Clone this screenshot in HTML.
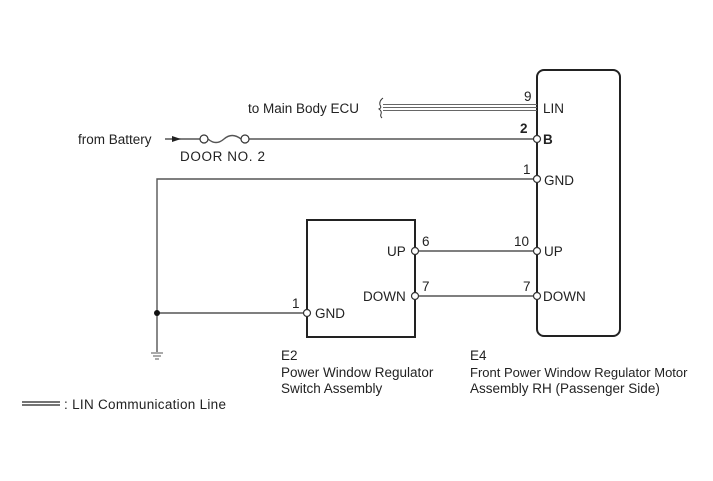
<!DOCTYPE html>
<html><head><style>
html,body{margin:0;padding:0;background:#fff;}
svg{display:block;}
text{font-family:"Liberation Sans",Arial,sans-serif;font-size:13.5px;fill:#222;}
</style></head><body>
<svg width="713" height="481" viewBox="0 0 713 481" xmlns="http://www.w3.org/2000/svg">
<g fill="none" stroke="#555" stroke-width="1.4">
<rect x="537" y="70" width="83" height="266" rx="7" ry="7" stroke="#222" stroke-width="2"/>
<rect x="307" y="220" width="108" height="117" stroke="#222" stroke-width="2"/>
<line x1="383" y1="104.5" x2="537" y2="104.5" stroke="#666" stroke-width="1"/>
<line x1="383" y1="107.5" x2="537" y2="107.5" stroke="#666" stroke-width="1"/>
<line x1="383" y1="110.5" x2="537" y2="110.5" stroke="#666" stroke-width="1"/>
<path d="M383,98 Q379,101 380,105 Q382,108 379,109 Q382,111 381,114 Q380,116 382,118" stroke="#333" stroke-width="1"/>
<line x1="165" y1="139" x2="200" y2="139"/>
<path d="M208,139 Q216,146 224,139 Q232,132 241,139" />
<line x1="249" y1="139" x2="533" y2="139"/>
<polyline points="533,179 157,179 157,352"/>
<line x1="157" y1="313" x2="303" y2="313"/>
<line x1="419" y1="251" x2="533" y2="251"/>
<line x1="419" y1="296" x2="533" y2="296"/>
<line x1="151" y1="353" x2="163" y2="353" stroke-width="1"/>
<line x1="153" y1="356" x2="161" y2="356" stroke-width="1"/>
<line x1="155" y1="359" x2="159" y2="359" stroke-width="1"/>
</g>
<polygon points="181,139 172,136 172,142" fill="#222"/>
<circle cx="157" cy="313" r="3" fill="#111"/>
<g fill="#fff" stroke="#333" stroke-width="1.2">
<circle cx="204" cy="139" r="4"/><circle cx="245" cy="139" r="4"/>
<circle cx="537" cy="139" r="3.5"/><circle cx="537" cy="179" r="3.5"/>
<circle cx="537" cy="251" r="3.5"/><circle cx="537" cy="296" r="3.5"/>
<circle cx="415" cy="251" r="3.5"/><circle cx="415" cy="296" r="3.5"/>
<circle cx="307" cy="313" r="3.5"/>
</g>
<text x="248" y="113">to Main Body ECU</text>
<text x="78" y="144">from Battery</text>
<text x="180" y="161" textLength="85">DOOR  NO. 2</text>
<text x="524" y="101">9</text><text x="543" y="113">LIN</text>
<text x="520" y="133" font-weight="bold">2</text><text x="543" y="144" font-weight="bold">B</text>
<text x="523" y="174">1</text><text x="544" y="185">GND</text>
<text x="514" y="246">10</text><text x="544" y="256">UP</text>
<text x="523" y="291">7</text><text x="543" y="301">DOWN</text>
<text x="422" y="246">6</text><text x="387" y="256">UP</text>
<text x="422" y="291">7</text><text x="363" y="301">DOWN</text>
<text x="292" y="308">1</text><text x="315" y="318">GND</text>
<text x="281" y="360">E2</text>
<text x="281" y="377">Power Window Regulator</text>
<text x="281" y="393">Switch Assembly</text>
<text x="470" y="360">E4</text>
<text x="470" y="377" style="font-size:13px">Front Power Window Regulator Motor</text>
<text x="470" y="393">Assembly RH (Passenger Side)</text>
<line x1="22" y1="402" x2="60" y2="402" stroke="#222" stroke-width="1.2"/>
<line x1="22" y1="405" x2="60" y2="405" stroke="#222" stroke-width="1.2"/>
<text x="64" y="409" textLength="162">: LIN Communication Line</text>
</svg>
</body></html>
